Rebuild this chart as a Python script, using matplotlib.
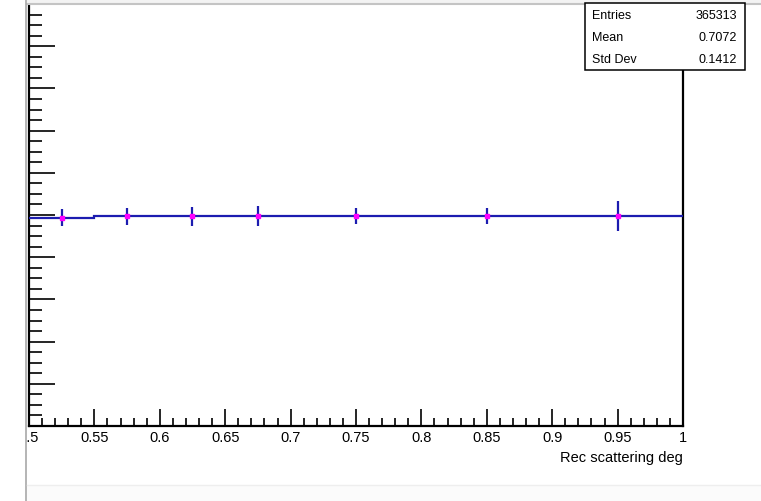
import numpy as np
import matplotlib
matplotlib.use("Agg")
import matplotlib.pyplot as plt
from matplotlib.patches import Rectangle
from matplotlib.lines import Line2D
from matplotlib.ticker import MultipleLocator

# histogram with variable bins
bin_edges = [0.5, 0.55, 0.6, 0.65, 0.7, 0.8, 0.9, 1.0]
bin_values = [0.988, 0.994, 0.994, 0.994, 0.994, 0.994, 0.994]
bin_errors = [0.040, 0.040, 0.045, 0.048, 0.038, 0.038, 0.070]
stats_names = ["Entries", "Mean", "Std Dev"]
stats_values = ["365313", "0.7072", "0.1412"]
x_label = "Rec scattering deg"

plt.rcParams['font.family'] = ['Liberation Sans', 'DejaVu Sans']

W, H = 761, 502
fig = plt.figure(figsize=(W / 100, H / 100), dpi=100)
fig.patch.set_facecolor('white')

def px(x0, y0, x1, y1):
    # pixel box (top-left origin) -> figure fraction rect
    return [x0 / W, 1 - y1 / H, (x1 - x0) / W, (y1 - y0) / H]

ax = fig.add_axes(px(29, 5, 683, 427))

edges = np.array(bin_edges)
vals = np.array(bin_values)
centers = 0.5 * (edges[:-1] + edges[1:])

blue = '#1c1cb0'
ax.stairs(vals, edges, baseline=None, color=blue, linewidth=1.6, zorder=3)
ax.errorbar(centers, vals, yerr=bin_errors, fmt='s', color=blue, ecolor=blue,
            elinewidth=1.6, capsize=0, markersize=3.2, markerfacecolor='#ff00ff',
            markeredgecolor='#ff00ff', zorder=4)

ax.set_xlim(0.5, 1.0)
ax.set_ylim(0, 2.0)
ax.xaxis.set_minor_locator(MultipleLocator(0.01))
ax.yaxis.set_major_locator(MultipleLocator(0.2))
ax.yaxis.set_minor_locator(MultipleLocator(0.05))

ax.set_xticks(np.arange(0.5, 1.0001, 0.05))
ax.set_xticklabels(['0.5', '0.55', '0.6', '0.65', '0.7', '0.75', '0.8', '0.85',
                    '0.9', '0.95', '1'])

ax.tick_params(axis='x', which='major', direction='in', length=12, width=1.2,
               top=False, labelsize=10.5, pad=3, colors='black')
ax.tick_params(axis='x', which='minor', direction='in', length=6, width=1.2, top=False)
ax.tick_params(axis='y', which='major', direction='in', length=19, width=1.2,
               right=False, labelleft=False)
ax.tick_params(axis='y', which='minor', direction='in', length=9, width=1.2, right=False)

for s in ['left', 'bottom', 'right']:
    ax.spines[s].set_linewidth(1.6)
    ax.spines[s].set_color('black')
ax.spines['top'].set_visible(False)

ax.set_xlabel(x_label, fontsize=10.5, loc='right', labelpad=4)

# canvas borders (screenshot edges)
fig.add_artist(Rectangle((0, 0), 27 / W, 1, transform=fig.transFigure,
                         facecolor='white', edgecolor='none', zorder=5))
fig.add_artist(Rectangle((27 / W, 1 - 5 / H), 1, 5 / H, transform=fig.transFigure,
                         facecolor='#f3f3f3', edgecolor='none', zorder=5))
fig.add_artist(Line2D([27 / W, 1], [1 - 5 / H, 1 - 5 / H], transform=fig.transFigure,
                      color='#c4c4c4', linewidth=1.5, zorder=6))
fig.add_artist(Line2D([26.5 / W, 26.5 / W], [0, 1], transform=fig.transFigure,
                      color='#a8a8a8', linewidth=1.2, zorder=6))
fig.add_artist(Rectangle((27 / W, 0), 1, 1 - 486 / H, transform=fig.transFigure,
                         facecolor='#fbfbfb', edgecolor='none', zorder=5))
fig.add_artist(Line2D([27 / W, 1], [1 - 486 / H, 1 - 486 / H], transform=fig.transFigure,
                      color='#eeeeee', linewidth=1, zorder=6))

# stats box
r = px(585, 4, 745, 71)
fig.add_artist(Rectangle((r[0], r[1]), r[2], r[3], transform=fig.transFigure,
                         facecolor='white', edgecolor='black', linewidth=1.1, zorder=7))
for i, (name, val) in enumerate(zip(stats_names, stats_values)):
    yc = 1 - (16 + 22 * i) / H
    fig.text(592 / W, yc, name, fontsize=9, va='center', ha='left', zorder=8)
    fig.text(737 / W, yc, val, fontsize=9, va='center', ha='right', zorder=8)

fig.savefig('out.png', dpi=100)
